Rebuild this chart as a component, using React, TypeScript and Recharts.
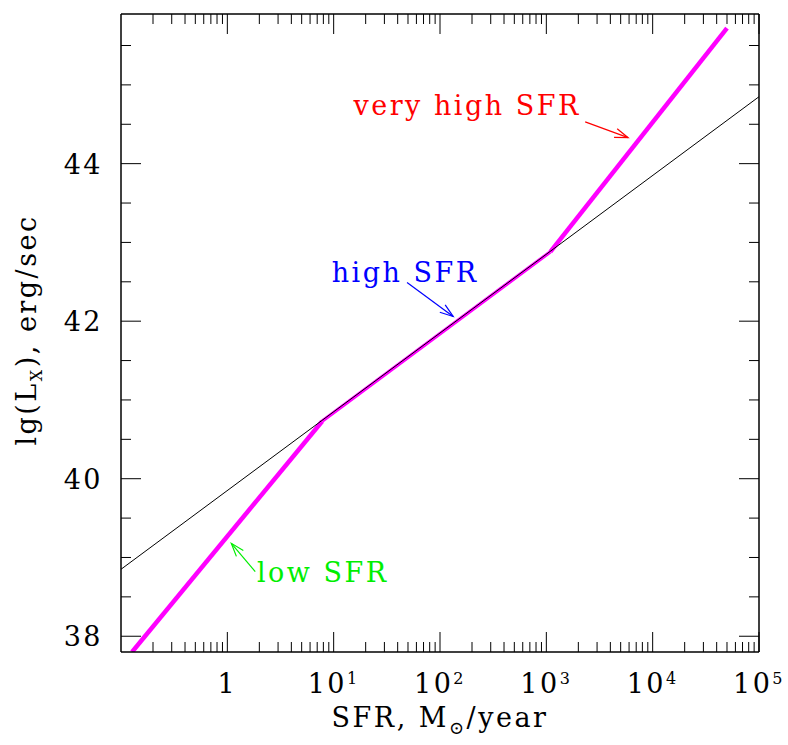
import {
  LineChart,
  Line,
  XAxis,
  YAxis,
  ReferenceLine,
  ReferenceDot,
} from "recharts";

// power-law pieces of the Lx - SFR relation (SFR in Msun/yr, lg Lx in erg/s)
const lowSfr = [
  { sfr: 0.127, lx: 37.8 },
  { sfr: 7.8, lx: 40.73 },
];
const highSfr = [
  { sfr: 7.8, lx: 40.73 },
  { sfr: 1090, lx: 42.88 },
];
const veryHighSfr = [
  { sfr: 1090, lx: 42.88 },
  { sfr: 50000, lx: 45.72 },
];
const linearRelation = [
  { sfr: 0.1, lx: 38.85 },
  { sfr: 100000, lx: 44.85 },
];

// annotation arrows: tail -> head
const arrowVeryHigh = [
  { sfr: 2320, lx: 44.53 },
  { sfr: 5870, lx: 44.33 },
];
const arrowHigh = [
  { sfr: 49, lx: 42.49 },
  { sfr: 133, lx: 42.06 },
];
const arrowLow = [
  { sfr: 1.83, lx: 38.82 },
  { sfr: 1.09, lx: 39.18 },
];

const annotations = [
  { text: "very high SFR", sfr: 180, lx: 44.62, color: "#ff0000", arrow: arrowVeryHigh },
  { text: "high SFR", sfr: 47, lx: 42.5, color: "#0000ff", arrow: arrowHigh },
  { text: "low SFR", sfr: 7.9, lx: 38.685, color: "#00ee00", arrow: arrowLow },
];

const xDecades = [0.1, 1, 10, 100, 1000, 10000];
const xMultipliers = [1, 2, 3, 4, 5, 6, 7, 8, 9];
const xTicks = [
  ...xDecades.flatMap((d) => xMultipliers.map((m) => d * m)).filter((v) => v > 0.1),
  100000,
];
const yTicks = [38, 38.5, 39, 39.5, 40, 40.5, 41, 41.5, 42, 42.5, 43, 43.5, 44, 44.5, 45, 45.5];
const yLabels = [38, 40, 42, 44];

const FONT = "'DejaVu Serif', serif";
const FS = 27;
const LS = 2.5;

const isDecade = (v: number) =>
  Math.abs(Math.log10(v) - Math.round(Math.log10(v))) < 1e-6;

function XTick(props: any) {
  const { x, y, payload, top } = props;
  const v = payload.value;
  const major = isDecade(v);
  const len = major ? 20 : 10;
  const exp = Math.round(Math.log10(v));
  return (
    <g>
      <line x1={x} y1={y} x2={x} y2={top ? y + len : y - len} stroke="#000" strokeWidth={1} />
      {!top && major && (
        <text
          x={x}
          y={y + 41}
          textAnchor="middle"
          fontSize={FS}
          fontFamily={FONT}
          letterSpacing={LS}
          fill="#000"
        >
          {exp === 0 ? (
            "1"
          ) : (
            <>
              10
              <tspan dy={-9} fontSize={16}>
                {exp}
              </tspan>
            </>
          )}
        </text>
      )}
    </g>
  );
}

function YTick(props: any) {
  const { x, y, payload, right } = props;
  const v = payload.value;
  const major = Number.isInteger(v) && v % 2 === 0;
  const len = major ? 20 : 10;
  return (
    <g>
      <line x1={x} y1={y} x2={right ? x - len : x + len} y2={y} stroke="#000" strokeWidth={1} />
      {!right && yLabels.includes(v) && (
        <text
          x={x - 18}
          y={y + 10}
          textAnchor="end"
          fontSize={FS}
          fontFamily={FONT}
          letterSpacing={LS}
          fill="#000"
        >
          {v}
        </text>
      )}
    </g>
  );
}

function Arrow(props: any) {
  const { x1, y1, x2, y2, color } = props;
  const ang = Math.atan2(y2 - y1, x2 - x1);
  const len = 14;
  const spread = 0.33;
  const a = [x2 - len * Math.cos(ang - spread), y2 - len * Math.sin(ang - spread)];
  const b = [x2 - len * Math.cos(ang + spread), y2 - len * Math.sin(ang + spread)];
  return (
    <g>
      <line x1={x1} y1={y1} x2={x2} y2={y2} stroke={color} strokeWidth={1.2} />
      <polyline
        points={`${a[0]},${a[1]} ${x2},${y2} ${b[0]},${b[1]}`}
        fill="none"
        stroke={color}
        strokeWidth={1.2}
      />
    </g>
  );
}

function XTitle(props: any) {
  const { viewBox } = props;
  return (
    <text
      x={viewBox.x + viewBox.width / 2}
      y={viewBox.y + 75}
      textAnchor="middle"
      fontSize={FS}
      fontFamily={FONT}
      letterSpacing={LS}
      fill="#000"
    >
      SFR, M
      <tspan dy={7} fontSize={18}>
        ⊙
      </tspan>
      <tspan dy={-7}>/year</tspan>
    </text>
  );
}

function YTitle(props: any) {
  const { viewBox } = props;
  const cx = 36;
  const cy = viewBox.y + viewBox.height / 2 - 3;
  return (
    <text
      x={cx}
      y={cy}
      transform={`rotate(-90, ${cx}, ${cy})`}
      textAnchor="middle"
      fontSize={FS}
      fontFamily={FONT}
      letterSpacing={LS}
      fill="#000"
    >
      lg(L
      <tspan dy={6} fontSize={16}>
        X
      </tspan>
      <tspan dy={-6}>), erg/sec</tspan>
    </text>
  );
}

export default function App() {
  return (
    <div style={{ position: "absolute", left: 0, top: 0, background: "#fff" }}>
      <LineChart width={788} height={745} margin={{ top: 10, right: 19, bottom: 33, left: 61 }}>
        <XAxis
          dataKey="sfr"
          type="number"
          scale="log"
          domain={[0.1, 100000]}
          allowDataOverflow
          ticks={xTicks}
          interval={0}
          tickSize={0}
          tickMargin={0}
          tickLine={false}
          height={60}
          axisLine={{ stroke: "#000", strokeWidth: 1.5 }}
          tick={(p: any) => <XTick {...p} />}
          label={{ content: (p: any) => <XTitle {...p} /> }}
        />
        <XAxis
          xAxisId="top"
          orientation="top"
          dataKey="sfr"
          type="number"
          scale="log"
          domain={[0.1, 100000]}
          allowDataOverflow
          ticks={xTicks}
          interval={0}
          tickSize={0}
          tickMargin={0}
          tickLine={false}
          height={4}
          axisLine={{ stroke: "#000", strokeWidth: 1.5 }}
          tick={(p: any) => <XTick {...p} top />}
        />
        <YAxis
          type="number"
          domain={[37.8, 45.9]}
          allowDataOverflow
          ticks={yTicks}
          interval={0}
          tickSize={0}
          tickMargin={0}
          tickLine={false}
          width={60}
          axisLine={{ stroke: "#000", strokeWidth: 1.5 }}
          tick={(p: any) => <YTick {...p} />}
          label={{ content: (p: any) => <YTitle {...p} /> }}
        />
        <YAxis
          yAxisId="right"
          orientation="right"
          type="number"
          domain={[37.8, 45.9]}
          allowDataOverflow
          ticks={yTicks}
          interval={0}
          tickSize={0}
          tickMargin={0}
          tickLine={false}
          width={10}
          axisLine={{ stroke: "#000", strokeWidth: 1.5 }}
          tick={(p: any) => <YTick {...p} right />}
        />
        <Line data={lowSfr} dataKey="lx" type="linear" stroke="#ff00ff" strokeWidth={4.5} dot={false} isAnimationActive={false} />
        <Line data={highSfr} dataKey="lx" type="linear" stroke="#ff00ff" strokeWidth={3.5} dot={false} isAnimationActive={false} />
        <Line data={veryHighSfr} dataKey="lx" type="linear" stroke="#ff00ff" strokeWidth={4.5} dot={false} isAnimationActive={false} />
        <Line data={linearRelation} dataKey="lx" type="linear" stroke="#000" strokeWidth={1} dot={false} isAnimationActive={false} />
        {annotations.map((a) => (
          <ReferenceLine
            key={a.text + "-arrow"}
            segment={[
              { x: a.arrow[0].sfr, y: a.arrow[0].lx },
              { x: a.arrow[1].sfr, y: a.arrow[1].lx },
            ]}
            shape={(p: any) => <Arrow {...p} color={a.color} />}
          />
        ))}
        {annotations.map((a) => (
          <ReferenceDot
            key={a.text}
            x={a.sfr}
            y={a.lx}
            r={0}
            shape={(p: any) => (
              <text
                x={p.cx}
                y={p.cy}
                textAnchor="middle"
                fontSize={FS}
                fontFamily={FONT}
                letterSpacing={LS}
                fill={a.color}
              >
                {a.text}
              </text>
            )}
          />
        ))}
      </LineChart>
    </div>
  );
}
